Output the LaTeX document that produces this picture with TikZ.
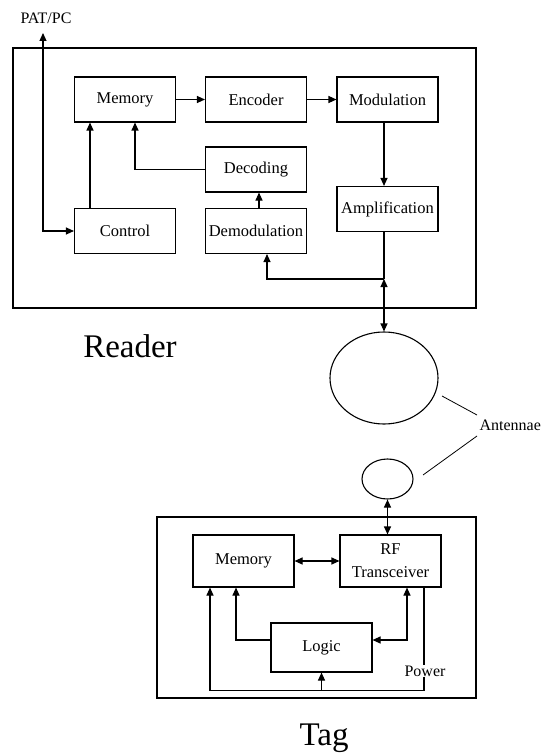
\documentclass[tikz,border=0pt]{standalone}
\usepackage{fontspec}
\setmainfont{Liberation Serif}
\usetikzlibrary{arrows.meta,shapes.geometric}
\begin{document}
\begin{tikzpicture}[x=1pt,y=-1pt, line width=1.1pt,
 blk/.style={draw, minimum width=101pt, minimum height=45pt, inner sep=0pt, font=\fontsize{16.5}{23}\selectfont},
 arr/.style={-{Triangle[length=8pt,width=7pt]}},
 darr/.style={{Triangle[length=8pt,width=7pt]}-{Triangle[length=8pt,width=7pt]}},
 lbl/.style={font=\fontsize{16}{17}\selectfont, inner sep=0pt},
 big/.style={font=\fontsize{33}{36}\selectfont, inner sep=0pt},
 ant/.style={draw, ellipse, inner sep=0pt}]
\useasboundingbox (0,0) rectangle (541,754);
% Reader
\node[draw, minimum width=463pt, minimum height=260pt] (reader) at (244.5,178) {};
\node[blk] (mem) at (125,99.5) {Memory};
\node[blk] (enc) at (256,99.5) {Encoder};
\node[blk] (mod) at (387.5,99.5) {Modulation};
\node[blk] (dec) at (256,169.5) {Decoding};
\node[blk] (dem) at (256,231) {Demodulation};
\node[blk] (ctl) at (125,231) {Control};
\node[blk] (amp) at (387.5,209) {Amplification};
\node[lbl] (pat) at (46,18) {PAT/PC};
\coordinate (pt) at (43,33);
\draw[darr] (pt) |- (ctl.west);
\draw[arr] ([xshift=-35pt]ctl.north) -- ([xshift=-35pt]mem.south);
\draw[arr] (dec.west) -| ([xshift=10pt]mem.south);
\draw[arr] (mem) -- (enc);
\draw[arr] (enc) -- (mod);
\draw[arr] ([xshift=-3.5pt]mod.south) -- ([xshift=-3.5pt]amp.north);
\draw[arr] ([xshift=3pt]dem.north) -- ([xshift=3pt]dec.south);
\coordinate (j) at (384,279);
\draw ([xshift=-3.5pt]amp.south) -- (j);
\draw[arr] (j) -| ([xshift=11pt]dem.south);
\node[ant, minimum width=108pt, minimum height=92pt] (ant1) at (384,378) {};
\draw[darr] (j) -- (ant1.north);
\node[big, anchor=base] (rd) at (130,357) {Reader};
% Antennae
\node[lbl, anchor=base west] (antl) at (479,430) {Antennae};
\coordinate (a1) at (442,396);
\coordinate (a2) at (477,415);
\coordinate (a3) at (423,475);
\coordinate (a4) at (477,436);
\draw[line width=0.8pt] (a1) -- (a2);
\draw[line width=0.8pt] (a3) -- (a4);
\node[ant, minimum width=51pt, minimum height=40pt] (ant2) at (387.5,479) {};
% Tag
\node[draw, minimum width=319pt, minimum height=181pt] (tag) at (316.5,607.5) {};
\node[blk, minimum height=52pt] (tmem) at (243.5,561) {Memory};
\node[blk, minimum height=52pt, align=center] (rf) at (390.5,561) {RF\\Transceiver};
\node[blk, minimum height=49pt] (logic) at (321.5,647.5) {Logic};
\draw[darr] (ant2.south) -- (ant2.south |- rf.north);
\draw[darr] (tmem) -- (rf);
\draw[arr] ([yshift=7.5pt]logic.west) -| ([xshift=-7.5pt]tmem.south);
\draw[darr] ([yshift=7.5pt]logic.east) -| ([xshift=16.5pt]rf.south);
\draw[arr] ([xshift=33.5pt]rf.south) |- ([xshift=-33.5pt,yshift=-103pt]tmem.south) -- ([xshift=-33.5pt]tmem.south);
\draw[arr] ([yshift=-18pt]logic.south) -- (logic.south);
\node[lbl, fill=white, inner sep=1pt] (pwr) at (425,671) {Power};
\node[big, anchor=base] (tg) at (324,745) {Tag};
\end{tikzpicture}
\end{document}
